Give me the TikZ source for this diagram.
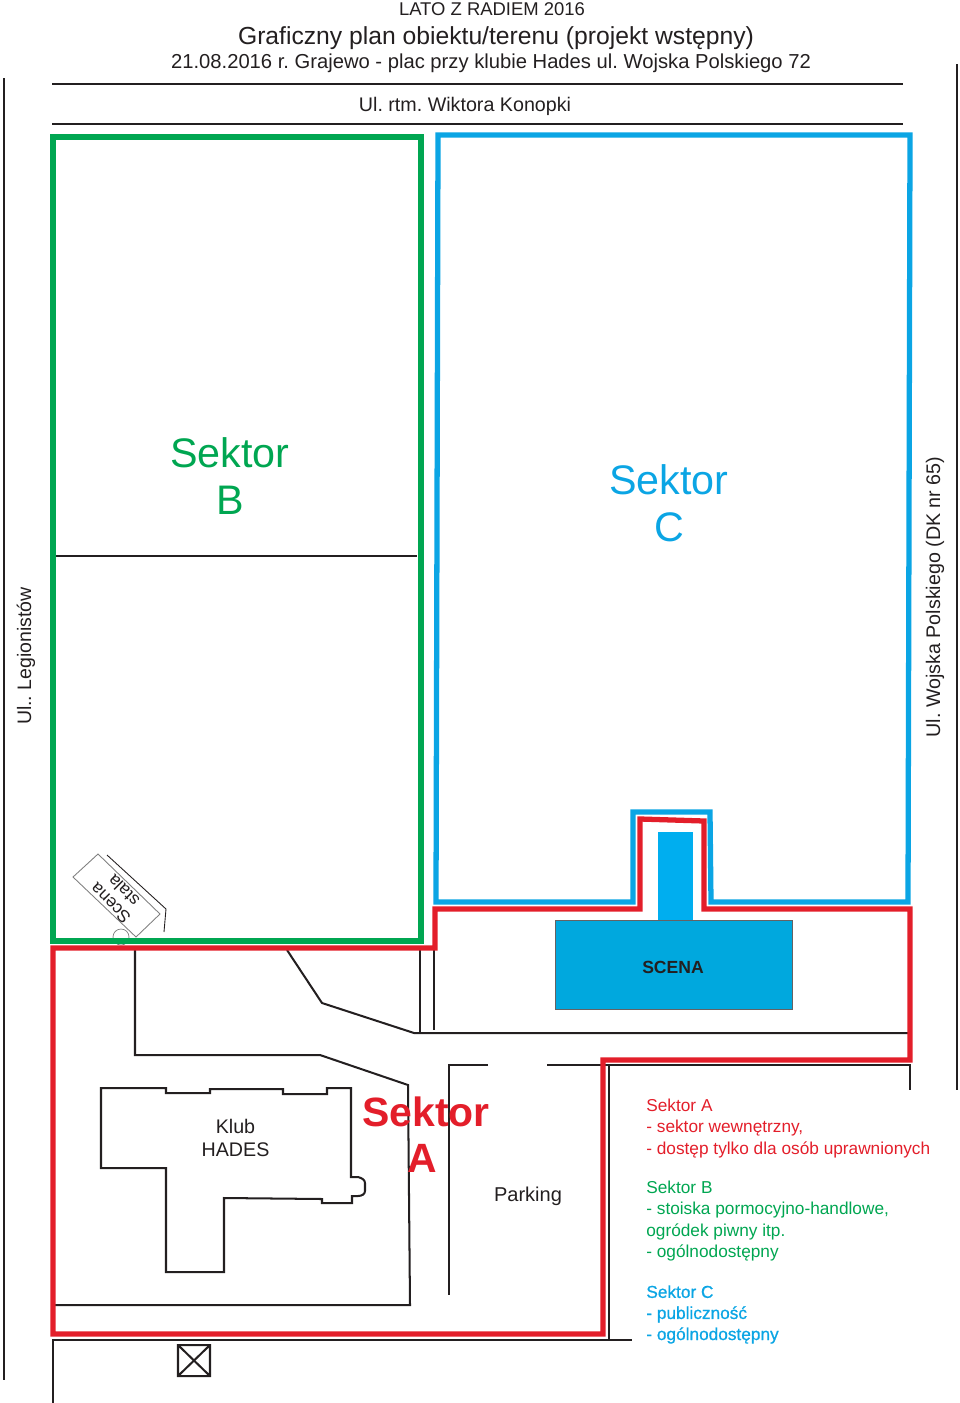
\documentclass[tikz,border=0pt]{standalone}
\usepackage{fontspec}
\setmainfont{Liberation Sans}
\newfontfamily\heavyfont[FakeBold=0.8]{Liberation Sans}
\frenchspacing
\usetikzlibrary{positioning}
\definecolor{sektorRed}{HTML}{E31E2A}
\definecolor{sektorGreen}{HTML}{00A651}
\definecolor{sektorBlue}{HTML}{0BA5E4}
\definecolor{scenaBlue}{HTML}{00A8DE}
\definecolor{rampBlue}{HTML}{00AEEF}
\definecolor{inkGrey}{HTML}{231F20}
\tikzset{
  wall/.style={draw=inkGrey,line width=1.15pt},
  border/.style={line width=3pt,line join=miter},
  label/.style={inner sep=0pt,text=inkGrey,align=center},
  sektor/.style={inner sep=0pt,align=center,font=\fontsize{23.5}{26.5}\selectfont},
  legend/.style={inner sep=0pt,anchor=north west,align=left,font=\fontsize{9.82}{12}\selectfont}
}
\begin{document}
\begin{tikzpicture}[x=0.02cm,y=-0.02cm]
\useasboundingbox (0,0) rectangle (960,1403);

% heading
\node[label,font=\fontsize{10.5}{12}\selectfont] (lato) at (492,9) {LATO Z RADIEM 2016};
\node[label,font=\fontsize{14.05}{16}\selectfont] (title) at (496,38) {Graficzny plan obiektu/terenu (projekt wstępny)};
\node[label,font=\fontsize{11.5}{13}\selectfont] (place) at (491,63) {21.08.2016 r. Grajewo - plac przy klubie Hades ul. Wojska Polskiego 72};
\node[label,font=\fontsize{11.2}{13}\selectfont] (konopki) at (465,106) {Ul. rtm. Wiktora Konopki};

% streets
\draw[wall,line width=1.5pt] (52,84) -- (903,84);
\draw[wall] (52,124) -- (903,124);
\draw[wall] (4,78) -- (4,1380);
\draw[wall] (957,64) -- (957,1090);
\node[label,rotate=90,font=\fontsize{11.1}{13}\selectfont] (legionistow) at (26,656) {Ul.. Legionistów};
\node[label,rotate=90,font=\fontsize{11.2}{13}\selectfont] (wojska) at (935,597) {Ul. Wojska Polskiego (DK nr 65)};

% stage
\fill[rampBlue] (658,832) rectangle (693,920);
\draw[fill=scenaBlue,draw=inkGrey!70,line width=0.5pt] (555,920) rectangle (792,1009);
\node[label,font=\bfseries\fontsize{10}{12}\selectfont] (scena) at (673,967) {SCENA};

% plan lines
\draw[wall] (54,556) -- (417,556);
\draw[wall] (135,948) -- (135,1055) -- (320,1055) -- (408,1085) -- (410,1305) -- (55,1305);
\draw[wall] (287,950) -- (322,1003) -- (414,1033) -- (910,1033);
\draw[wall] (420,948) -- (420,1033);
\draw[wall] (434,948) -- (434,1030);
\draw[wall] (488,1065) -- (449,1065) -- (449,1295);
\draw[wall] (547,1065) -- (910,1065) -- (910,1090);
\draw[wall] (609,1065) -- (609,1339);
\draw[wall] (53,1403) -- (53,1340) -- (632,1340);
\draw[wall] (178,1345) rectangle (210,1376) (178,1345) -- (210,1376) (210,1345) -- (178,1376);

% club building
\draw[wall] (101,1088) -- (166,1088) -- (166,1093) -- (210,1093) -- (210,1089) -- (283,1089) -- (283,1094) -- (327,1094)
  -- (327,1088) -- (351,1088) -- (351,1177) -- (358,1177) .. controls (362,1178) and (365,1180) .. (365,1183) -- (365,1191)
  .. controls (365,1194) and (362,1196) .. (358,1196) -- (352,1196)
  -- (352,1203) -- (322,1203) -- (322,1199) -- (224,1198) -- (224,1272) -- (166,1272) -- (166,1168) -- (101,1168) -- cycle;
\node[label,font=\fontsize{11.2}{13}\selectfont] (klub) at (235.5,1138) {Klub\\HADES};
\node[label,font=\fontsize{11.4}{13}\selectfont] (parking) at (528,1196) {Parking};

% fixed stage
\draw[gray,line width=0.5pt] (98,854) -- (160,914) -- (136,937) -- (73,877) -- cycle;
\draw[inkGrey,line width=0.5pt] (107,855) -- (166,909) -- (164,932);
\draw[gray,line width=0.4pt] (121,937) circle (8);
\node[label,rotate=135,font=\fontsize{9.8}{10.4}\selectfont] (stala) at (117,897) {Scena\\stala};

% sectors
\draw[border,draw=sektorGreen] (53,137) rectangle (421,941);
\draw[border,draw=sektorBlue] (438,135) -- (910,135) -- (908,902) -- (711,902) -- (710,812) -- (633,812) -- (633,902) -- (436,902) -- cycle;
\draw[border,draw=sektorRed] (435,909) -- (640,909) -- (640,819) -- (704,821) -- (704,909) -- (910,909) -- (910,1060) -- (603,1060) -- (603,1334) -- (53,1334) -- (53,948) -- (435,948) -- cycle;

\node[sektor,text=sektorGreen] (sektorb) at (230,476) {Sektor\\B};
\node[sektor,text=sektorBlue] (sektorc) at (669,503) {Sektor\\C};
\node[sektor,text=sektorRed,font=\bfseries\fontsize{23.3}{26.2}\selectfont] (sektora) at (426,1135) {Sektor\\\hspace*{-4pt}A};

% legend
\node[legend,text=sektorRed] (lega) at (646,1099) {Sektor A\\- sektor wewnętrzny,\\- dostęp tylko dla osób uprawnionych};
\node[legend,text=sektorGreen] (legb) at (646,1181) {Sektor B\\- stoiska pormocyjno-handlowe,\\ogródek piwny itp.\\- ogólnodostępny};
\node[legend,text=sektorBlue] (legc) at (646,1285) {\heavyfont Sektor C\\\heavyfont - publiczność\\\heavyfont - ogólnodostępny};
\end{tikzpicture}
\end{document}
